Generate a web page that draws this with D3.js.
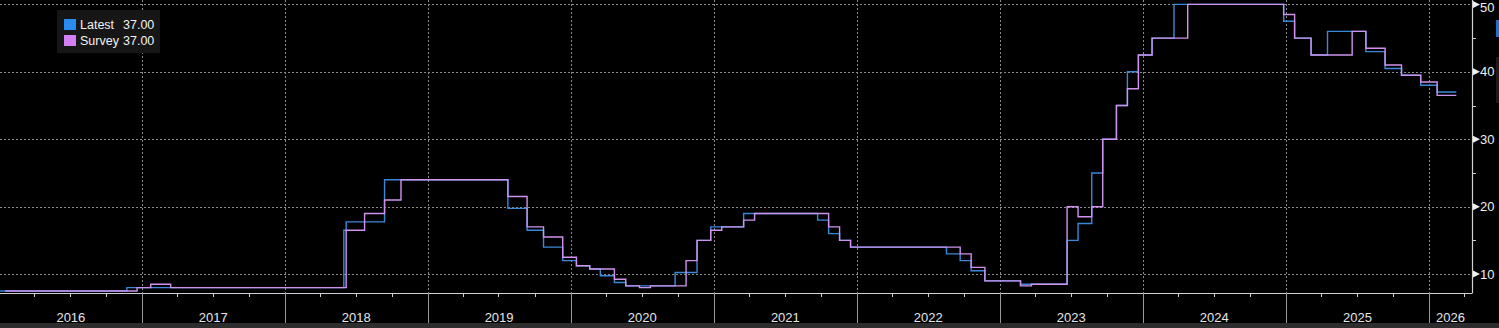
<!DOCTYPE html>
<html>
<head>
<meta charset="utf-8">
<script src="https://cdn.jsdelivr.net/npm/d3@7"></script>
<style>
  html, body { margin: 0; padding: 0; background: #000; }
  svg { display: block; }
  text { font-family: "Liberation Sans", Arial, sans-serif; }
</style>
</head>
<body>
<svg id="chart" width="1499" height="328"></svg>
<script>
// ---- Data ----
const latestDates = ["2015-12-01","2016-11-24","2018-06-01","2018-06-07","2018-09-13","2019-07-25","2019-09-12","2019-10-24","2019-12-12","2020-01-16","2020-02-19","2020-03-17","2020-04-22","2020-05-21","2020-09-24","2020-11-19","2020-12-24","2021-03-18","2021-09-23","2021-10-21","2021-11-18","2021-12-16","2022-08-18","2022-09-22","2022-10-20","2022-11-24","2023-02-23","2023-06-22","2023-07-20","2023-08-24","2023-09-21","2023-10-26","2023-11-23","2023-12-21","2024-01-25","2024-03-21","2024-12-26","2025-01-23","2025-03-06","2025-04-17","2025-07-24","2025-09-11","2025-10-23","2025-12-11","2026-01-22","2026-03-12"];
const latestValues = [7.5,8.0,16.5,17.75,24,19.75,16.5,14,12,11.25,10.75,9.75,8.75,8.25,10.25,15,17,19,18,16,15,14,13,12,10.5,9,8.5,15,17.5,25,30,35,40,42.5,45,50,47.5,45,42.5,46,43,40.5,39.5,38,37,37];

const surveyDates = ["2016-01-18","2016-12-20","2017-01-24","2017-03-16","2018-06-07","2018-07-24","2018-09-13","2018-10-25","2019-07-25","2019-09-12","2019-10-24","2019-12-12","2020-01-16","2020-02-19","2020-04-22","2020-05-21","2020-06-25","2020-07-23","2020-10-22","2020-11-19","2020-12-24","2021-01-21","2021-03-18","2021-04-15","2021-10-21","2021-11-18","2021-12-16","2022-09-22","2022-10-20","2022-11-24","2023-02-23","2023-03-23","2023-06-22","2023-07-20","2023-08-24","2023-09-21","2023-10-26","2023-11-23","2023-12-21","2024-01-25","2024-04-25","2024-12-26","2025-01-23","2025-03-06","2025-06-19","2025-07-24","2025-09-11","2025-10-23","2025-12-11","2026-01-22","2026-03-12"];
const surveyValues = [7.5,8.0,8.5,8.0,16.5,19,21,24,21.5,17,15.5,12.5,11.25,10.75,9.25,8.25,8.0,8.25,12,15,16.5,17,18,19,17,15,14,13,11,9,8.25,8.5,20,18.5,20,30,35,37.5,42.5,45,50,48.5,45,42.5,46,43.5,41,39.5,38.5,36.5,36.5];

const yearLabels = ["2016","2017","2018","2019","2020","2021","2022","2023","2024","2025","2026"];
const yMajorTicks = [10,20,30,40,50];
const yMinorTicks = [15,25,35,45];
const legendItems = [
  {name: "Latest", value: "37.00", color: "#2a8cf0"},
  {name: "Survey", value: "37.00", color: "#d27ff5"}
];

// ---- Layout ----
const W = 1499, H = 328;
const plotLeft = 0, plotRight = 1472, plotTop = 0, plotBottom = 293;
const parse = d3.timeParse("%Y-%m-%d");

const x = d3.scaleTime()
  .domain([parse("2016-01-05"), parse("2026-04-21")])
  .range([plotLeft, plotRight]);
const y = d3.scaleLinear()
  .domain([7.2, 50.65])
  .range([plotBottom, plotTop]);

const svg = d3.select("#chart");
svg.append("rect").attr("width", W).attr("height", H).attr("fill", "#000");

svg.append("defs").append("clipPath").attr("id", "plotclip")
  .append("rect").attr("x", plotLeft).attr("y", plotTop)
  .attr("width", plotRight - plotLeft).attr("height", plotBottom - plotTop);

// Grid
const gridColor = "#8a8a8a";
const yearStarts = d3.timeYear.range(parse("2016-01-01"), parse("2027-01-01"));
const yearBounds = yearStarts.filter(d => x(d) > plotLeft + 2 && x(d) < plotRight - 2);

svg.append("g").selectAll("line").data(yMajorTicks).join("line")
  .attr("x1", plotLeft).attr("x2", plotRight)
  .attr("y1", d => Math.round(y(d)) + 0.5).attr("y2", d => Math.round(y(d)) + 0.5)
  .attr("stroke", gridColor).attr("stroke-width", 1).attr("stroke-dasharray", "2,2");

svg.append("g").selectAll("line").data(yearBounds).join("line")
  .attr("x1", d => Math.round(x(d)) + 0.5).attr("x2", d => Math.round(x(d)) + 0.5)
  .attr("y1", plotTop).attr("y2", plotBottom)
  .attr("stroke", gridColor).attr("stroke-width", 1).attr("stroke-dasharray", "2,2");

// Lines
const latest = latestDates.map((d, i) => ({date: parse(d), value: latestValues[i]}));
const survey = surveyDates.map((d, i) => ({date: parse(d), value: surveyValues[i]}));
const line = d3.line().x(d => x(d.date)).y(d => y(d.value)).curve(d3.curveStepAfter);

const lines = svg.append("g").attr("clip-path", "url(#plotclip)");
lines.append("path").datum(latest).attr("d", line)
  .attr("fill", "none").attr("stroke", "#3a88d8").attr("stroke-width", 1.4);
lines.append("path").datum(survey).attr("d", line)
  .attr("fill", "none").attr("stroke", "#cf93ee").attr("stroke-width", 1.4);

// X axis
const axisColor = "#d0d0d0";
svg.append("line").attr("x1", plotLeft).attr("x2", plotRight)
  .attr("y1", plotBottom + 0.5).attr("y2", plotBottom + 0.5)
  .attr("stroke", axisColor).attr("stroke-width", 1.2);

const quarters = d3.timeMonth.every(3).range(parse("2016-01-01"), parse("2026-12-31"))
  .filter(d => d.getMonth() !== 0 && x(d) > plotLeft && x(d) < plotRight);
svg.append("g").selectAll("line").data(quarters).join("line")
  .attr("x1", d => Math.round(x(d)) + 0.5).attr("x2", d => Math.round(x(d)) + 0.5)
  .attr("y1", plotBottom).attr("y2", plotBottom + 4)
  .attr("stroke", axisColor).attr("stroke-width", 1);

svg.append("g").selectAll("line").data(yearBounds).join("line")
  .attr("x1", d => Math.round(x(d)) + 0.5).attr("x2", d => Math.round(x(d)) + 0.5)
  .attr("y1", plotBottom).attr("y2", 323)
  .attr("stroke", "#9a9a9a").attr("stroke-width", 1);

svg.append("g").selectAll("text").data(yearLabels).join("text")
  .attr("x", d => {
    const a = Math.max(x(parse(d + "-01-01")), plotLeft);
    const b = Math.min(x(parse((+d + 1) + "-01-01")), plotRight);
    return (a + b) / 2;
  })
  .attr("y", 321.5)
  .attr("text-anchor", "middle")
  .attr("fill", "#e6e6e6")
  .attr("font-size", 13)
  .text(d => d);

// Bottom strip
svg.append("rect").attr("x", 0).attr("y", 323).attr("width", W).attr("height", 5).attr("fill", "#2d2d2d");

// Y axis (right)
svg.append("line").attr("x1", plotRight + 0.5).attr("x2", plotRight + 0.5)
  .attr("y1", plotTop).attr("y2", plotBottom + 0.5)
  .attr("stroke", axisColor).attr("stroke-width", 1.2);

svg.append("g").selectAll("path").data(yMajorTicks).join("path")
  .attr("d", d => {
    const yy = y(d);
    return `M${plotRight + 1},${yy - 3.5} L${plotRight + 8},${yy} L${plotRight + 1},${yy + 3.5} Z`;
  })
  .attr("fill", "#f0f0f0");

svg.append("g").selectAll("line").data(yMinorTicks).join("line")
  .attr("x1", plotRight + 1).attr("x2", plotRight + 4)
  .attr("y1", d => Math.round(y(d)) + 0.5).attr("y2", d => Math.round(y(d)) + 0.5)
  .attr("stroke", axisColor).attr("stroke-width", 1);

svg.append("g").selectAll("text").data(yMajorTicks).join("text")
  .attr("x", plotRight + 8).attr("y", d => Math.max(y(d), 7.6))
  .attr("dy", "0.36em")
  .attr("fill", "#f0f0f0")
  .attr("font-size", 13)
  .text(d => d);

// Right-edge markers (cut-off tags)
svg.append("rect").attr("x", 1496).attr("y", 20).attr("width", 3).attr("height", 17).attr("fill", "#1f6fcf");
svg.append("rect").attr("x", 1496).attr("y", 57).attr("width", 3).attr("height", 46).attr("fill", "#1c1c1c");

// Legend
const lg = svg.append("g");
lg.append("rect").attr("x", 57).attr("y", 10).attr("width", 103).attr("height", 43).attr("fill", "#161616");
legendItems.forEach((it, i) => {
  const yy = 19 + i * 16;
  lg.append("rect").attr("x", 64).attr("y", yy).attr("width", 12).attr("height", 11).attr("fill", it.color);
  lg.append("text").attr("x", 80).attr("y", yy + 10).attr("fill", "#f2f2f2").attr("font-size", 12.5).text(it.name);
  lg.append("text").attr("x", 123).attr("y", yy + 10).attr("fill", "#f2f2f2").attr("font-size", 12.5).text(it.value);
});
</script>
</body>
</html>
